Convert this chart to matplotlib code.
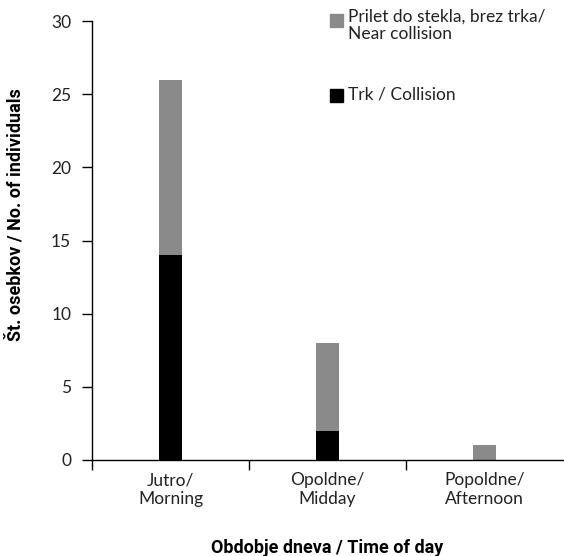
import numpy as np
import matplotlib.pyplot as plt
from matplotlib.patches import Rectangle

categories = ['Jutro/\nMorning', 'Opoldne/\nMidday', 'Popoldne/\nAfternoon']
collision = [14, 2, 0]
near = [12, 6, 1]
yticks = [0, 5, 10, 15, 20, 25, 30]

gray = '#8a8a8a'
txt = '#222222'
light = dict(family=['Lato', 'DejaVu Sans'], weight='normal', size=12.5, color=txt)
bold = dict(family=['Roboto', 'DejaVu Sans'], weight='bold', size=13, color='black')

W, H = 564, 556
fig = plt.figure(figsize=(W/100, H/100), dpi=100)
ax = fig.add_axes([92/W, 1-460/H, 471/W, (460-21)/H])

x = np.arange(len(categories))
ax.bar(x, collision, width=0.146, color='black')
ax.bar(x, near, width=0.146, bottom=collision, color=gray)

ax.set_xlim(-0.5, 2.5)
ax.set_ylim(0, 30)
ax.set_yticks(yticks)
ax.set_yticklabels([str(v) for v in yticks], **light)
ax.set_xticks(x)
ax.set_xticklabels(categories, **light)
ax.set_xticks([-0.5, 0.5, 1.5], minor=True)
ax.tick_params(axis='x', which='major', length=0, pad=9)
ax.tick_params(axis='x', which='minor', length=7, width=1)
ax.tick_params(axis='y', length=7, width=1, pad=8)
for s in ['top', 'right']:
    ax.spines[s].set_visible(False)
for s in ['left', 'bottom']:
    ax.spines[s].set_linewidth(1)

ax.set_ylabel('Št. osebkov / No. of individuals', **bold)
ax.yaxis.set_label_coords((24-92)/471, (460-215)/439)
fig.text(327/W, 1-553/H, 'Obdobje dneva / Time of day', ha='center', va='baseline', **bold)

# legend drawn by hand
for (y0, col) in [(14, gray), (89, 'black')]:
    fig.patches.append(Rectangle((330/W, 1-(y0+13)/H), 13/W, 13/H, color=col,
                                 transform=fig.transFigure))
fig.text(348/W, 1-9/H, 'Prilet do stekla, brez trka/\nNear collision', va='top',
         linespacing=1.1, **light)
fig.text(348/W, 1-87/H, 'Trk / Collision', va='top', **light)

fig.savefig('out.png', dpi=100)
